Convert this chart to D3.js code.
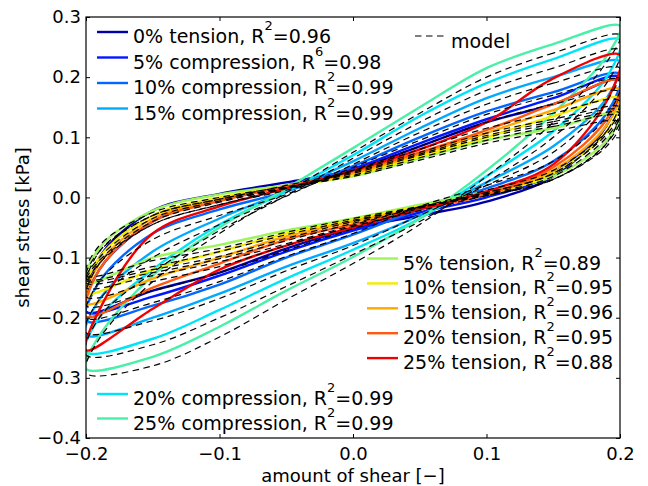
<!DOCTYPE html>
<html><head><meta charset="utf-8">
<script src="https://cdn.jsdelivr.net/npm/d3@7"></script>
<style>
body{margin:0;background:#fff}
svg{display:block}
text{font-family:"DejaVu Sans",sans-serif;fill:#000}
</style>
</head><body>
<svg id="chart" width="648" height="486"></svg>
<script>
// ---- axis ticks ----
const xTicks = [-0.2, -0.1, 0.0, 0.1, 0.2];
const yTicks = [-0.4, -0.3, -0.2, -0.1, 0.0, 0.1, 0.2, 0.3];

// ---- sampling positions of each hysteresis loop ----
// upper (unloading) branch, from right tip to left
const upperX = [0.2, 0.15, 0.1, 0.05, 0.0, -0.05, -0.1, -0.15, -0.19];
// lower (loading) branch, from left tip to right
const lowerX = [-0.2, -0.15, -0.1, -0.05, 0.0, 0.05, 0.1, 0.15, 0.19];

// ---- series names / R^2 ----
const seriesNames = ["0% tension", "5% compression", "10% compression", "15% compression",
  "20% compression", "25% compression", "5% tension", "10% tension", "15% tension",
  "20% tension", "25% tension"];
const r2Exp = ["2", "6", "2", "2", "2", "2", "2", "2", "2", "2", "2"];
const r2Val = ["0.96", "0.98", "0.99", "0.99", "0.99", "0.99", "0.89", "0.95", "0.96", "0.95", "0.88"];
const seriesColors = ["#0000a8", "#0018ff", "#0068ff", "#00aaff", "#00e4f8", "#48f0a8",
  "#9cf55a", "#f4ec00", "#ffa800", "#ff5a10", "#f00000"];

// ---- measured loops (shear stress, kPa) ----
const t0Upper  = [0.195, 0.155, 0.125, 0.085, 0.046, 0.025, 0.006, -0.022, -0.100];
const t0Lower  = [-0.190, -0.155, -0.125, -0.085, -0.052, -0.030, -0.007, 0.035, 0.120];
const c5Upper  = [0.200, 0.165, 0.130, 0.090, 0.048, 0.020, -0.003, -0.040, -0.120];
const c5Lower  = [-0.190, -0.165, -0.130, -0.090, -0.055, -0.025, 0.000, 0.040, 0.120];
const c10Upper = [0.205, 0.175, 0.143, 0.100, 0.052, 0.010, -0.020, -0.060, -0.140];
const c10Lower = [-0.205, -0.180, -0.145, -0.100, -0.062, -0.020, 0.015, 0.060, 0.140];
const c15Upper = [0.226, 0.200, 0.165, 0.115, 0.060, 0.010, -0.035, -0.090, -0.170];
const c15Lower = [-0.229, -0.200, -0.160, -0.115, -0.076, -0.030, 0.025, 0.085, 0.165];
const c20Upper = [0.262, 0.230, 0.190, 0.135, 0.070, 0.010, -0.045, -0.120, -0.200];
const c20Lower = [-0.257, -0.235, -0.187, -0.135, -0.087, -0.035, 0.035, 0.110, 0.200];
const c25Upper = [0.285, 0.255, 0.215, 0.150, 0.082, 0.015, -0.050, -0.130, -0.230];
const c25Lower = [-0.285, -0.265, -0.215, -0.155, -0.099, -0.035, 0.045, 0.140, 0.235];
const t5Upper  = [0.140, 0.115, 0.095, 0.065, 0.035, 0.020, 0.005, -0.022, -0.084];
const t5Lower  = [-0.142, -0.100, -0.079, -0.055, -0.035, -0.012, 0.010, 0.035, 0.095];
const t10Upper = [0.165, 0.135, 0.100, 0.068, 0.037, 0.018, 0.000, -0.030, -0.100];
const t10Lower = [-0.159, -0.120, -0.090, -0.060, -0.037, -0.015, 0.005, 0.040, 0.110];
const t15Upper = [0.180, 0.145, 0.107, 0.072, 0.040, 0.018, -0.004, -0.035, -0.110];
const t15Lower = [-0.176, -0.135, -0.100, -0.065, -0.040, -0.018, 0.005, 0.045, 0.120];
const t20Upper = [0.195, 0.155, 0.112, 0.075, 0.043, 0.018, -0.006, -0.040, -0.120];
const t20Lower = [-0.198, -0.150, -0.110, -0.070, -0.045, -0.020, 0.005, 0.050, 0.130];
const t25Upper = [0.237, 0.198, 0.125, 0.080, 0.045, 0.015, -0.015, -0.060, -0.187];
const t25Lower = [-0.254, -0.185, -0.120, -0.080, -0.050, -0.020, 0.010, 0.055, 0.160];

// ---- model loops ----
const t0ModelUpper  = [0.160, 0.140, 0.115, 0.080, 0.045, 0.020, -0.003, -0.030, -0.090];
const t0ModelLower  = [-0.165, -0.140, -0.115, -0.080, -0.048, -0.022, 0.003, 0.030, 0.090];
const c5ModelUpper  = [0.175, 0.155, 0.125, 0.085, 0.045, 0.012, -0.012, -0.045, -0.110];
const c5ModelLower  = [-0.180, -0.155, -0.125, -0.088, -0.052, -0.018, 0.008, 0.040, 0.110];
const c10ModelUpper = [0.195, 0.170, 0.138, 0.095, 0.050, 0.005, -0.030, -0.070, -0.140];
const c10ModelLower = [-0.200, -0.175, -0.140, -0.098, -0.060, -0.015, 0.020, 0.060, 0.135];
const c15ModelUpper = [0.215, 0.190, 0.155, 0.108, 0.055, 0.002, -0.045, -0.100, -0.170];
const c15ModelLower = [-0.225, -0.205, -0.168, -0.122, -0.080, -0.030, 0.020, 0.075, 0.160];
const c20ModelUpper = [0.245, 0.215, 0.178, 0.125, 0.065, 0.003, -0.055, -0.125, -0.200];
const c20ModelLower = [-0.262, -0.245, -0.200, -0.148, -0.095, -0.040, 0.025, 0.100, 0.190];
const c25ModelUpper = [0.270, 0.240, 0.200, 0.140, 0.075, 0.008, -0.060, -0.140, -0.235];
const c25ModelLower = [-0.292, -0.280, -0.232, -0.170, -0.110, -0.045, 0.035, 0.125, 0.225];
const t5ModelUpper  = [0.125, 0.110, 0.090, 0.062, 0.035, 0.018, 0.000, -0.025, -0.080];
const t5ModelLower  = [-0.130, -0.105, -0.085, -0.058, -0.035, -0.015, 0.005, 0.030, 0.085];
const t10ModelUpper = [0.135, 0.118, 0.095, 0.066, 0.037, 0.016, -0.003, -0.030, -0.090];
const t10ModelLower = [-0.135, -0.115, -0.090, -0.062, -0.038, -0.016, 0.003, 0.030, 0.090];
const t15ModelUpper = [0.140, 0.122, 0.100, 0.070, 0.040, 0.016, -0.006, -0.035, -0.100];
const t15ModelLower = [-0.138, -0.120, -0.098, -0.068, -0.040, -0.016, 0.006, 0.035, 0.100];
const t20ModelUpper = [0.145, 0.126, 0.103, 0.072, 0.042, 0.016, -0.008, -0.040, -0.105];
const t20ModelLower = [-0.142, -0.125, -0.102, -0.072, -0.043, -0.017, 0.008, 0.040, 0.105];
const t25ModelUpper = [0.150, 0.130, 0.107, 0.075, 0.044, 0.015, -0.012, -0.045, -0.110];
const t25ModelLower = [-0.150, -0.130, -0.107, -0.077, -0.046, -0.016, 0.012, 0.045, 0.110];

const measuredUpper = [t0Upper, c5Upper, c10Upper, c15Upper, c20Upper, c25Upper, t5Upper, t10Upper, t15Upper, t20Upper, t25Upper];
const measuredLower = [t0Lower, c5Lower, c10Lower, c15Lower, c20Lower, c25Lower, t5Lower, t10Lower, t15Lower, t20Lower, t25Lower];
const modelUpper = [t0ModelUpper, c5ModelUpper, c10ModelUpper, c15ModelUpper, c20ModelUpper, c25ModelUpper, t5ModelUpper, t10ModelUpper, t15ModelUpper, t20ModelUpper, t25ModelUpper];
const modelLower = [t0ModelLower, c5ModelLower, c10ModelLower, c15ModelLower, c20ModelLower, c25ModelLower, t5ModelLower, t10ModelLower, t15ModelLower, t20ModelLower, t25ModelLower];

// ---- layout ----
const W = 648, H = 486;
const L = 86, R = 620, T = 17, B = 438;
const svg = d3.select("#chart");
const x = d3.scaleLinear().domain([-0.2, 0.2]).range([L, R]);
const y = d3.scaleLinear().domain([-0.4, 0.3]).range([B, T]);
const fmt = d3.format(".1f");

svg.append("defs").append("clipPath").attr("id", "clip")
  .append("rect").attr("x", L).attr("y", T).attr("width", R - L).attr("height", B - T);

const loopLine = d3.line().x(d => x(d[0])).y(d => y(d[1]))
  .curve(d3.curveCatmullRomClosed.alpha(0.5));
function loopPoints(up, lo) {
  return upperX.map((xx, i) => [xx, up[i]]).concat(lowerX.map((xx, i) => [xx, lo[i]]));
}

const plot = svg.append("g").attr("clip-path", "url(#clip)");
seriesNames.forEach((n, i) => {
  plot.append("path").attr("d", loopLine(loopPoints(measuredUpper[i], measuredLower[i])))
    .attr("fill", "none").attr("stroke", seriesColors[i]).attr("stroke-width", 2.4);
});
seriesNames.forEach((n, i) => {
  plot.append("path").attr("d", loopLine(loopPoints(modelUpper[i], modelLower[i])))
    .attr("fill", "none").attr("stroke", "#000").attr("stroke-width", 1.2)
    .attr("stroke-dasharray", "6.5,4.5");
});

// ---- axes (inward ticks on all four sides) ----
const fontTick = 18;
const gx = svg.append("g").attr("transform", `translate(0,${B})`)
  .call(d3.axisBottom(x).tickValues(xTicks).tickFormat(fmt).tickSizeInner(-4).tickSizeOuter(0).tickPadding(9));
const gy = svg.append("g").attr("transform", `translate(${L},0)`)
  .call(d3.axisLeft(y).tickValues(yTicks).tickFormat(fmt).tickSizeInner(-4).tickSizeOuter(0).tickPadding(5));
const gt = svg.append("g").attr("transform", `translate(0,${T})`)
  .call(d3.axisTop(x).tickValues(xTicks).tickFormat("").tickSizeInner(-4).tickSizeOuter(0));
const gr = svg.append("g").attr("transform", `translate(${R},0)`)
  .call(d3.axisRight(y).tickValues(yTicks).tickFormat("").tickSizeInner(-4).tickSizeOuter(0));
[gx, gy, gt, gr].forEach(g => {
  g.selectAll("path.domain").remove();
  g.selectAll("line").attr("stroke", "#000").attr("stroke-width", 1);
  g.selectAll("text").attr("font-family", "DejaVu Sans").attr("font-size", fontTick).attr("fill", "#000");
});
svg.append("rect").attr("x", L).attr("y", T).attr("width", R - L).attr("height", B - T)
  .attr("fill", "none").attr("stroke", "#000").attr("stroke-width", 1.2);

// axis titles
svg.append("text").attr("x", (L + R) / 2).attr("y", 482).attr("text-anchor", "middle")
  .attr("font-size", 18).text("amount of shear [\u2212]");
svg.append("text").attr("transform", `translate(29,${(T + B) / 2}) rotate(-90)`)
  .attr("text-anchor", "middle").attr("font-size", 18).text("shear stress [kPa]");

// ---- legends ----
const fontLeg = 19;
function legendEntry(i, hx0, hx1, ly) {
  svg.append("line").attr("x1", hx0).attr("x2", hx1).attr("y1", ly).attr("y2", ly)
    .attr("stroke", seriesColors[i]).attr("stroke-width", 2.4);
  const t = svg.append("text").attr("x", hx1 + 5).attr("y", ly + 11).attr("font-size", fontLeg);
  t.append("tspan").text(seriesNames[i] + ", R");
  t.append("tspan").attr("dy", -13).attr("font-size", 13).text(r2Exp[i]);
  t.append("tspan").attr("dy", 13).text("=" + r2Val[i]);
}
// upper-left: 0% tension, 5-15% compression
[0, 1, 2, 3].forEach((i, k) => legendEntry(i, 97, 128, 32 + k * 25.5));
// bottom-left: 20-25% compression
[4, 5].forEach((i, k) => legendEntry(i, 97, 128, 394 + k * 24.5));
// bottom-right: tension
[6, 7, 8, 9, 10].forEach((i, k) => legendEntry(i, 367, 398, 258.5 + k * 24.9));
// model
svg.append("line").attr("x1", 415).attr("x2", 447).attr("y1", 36).attr("y2", 36)
  .attr("stroke", "#000").attr("stroke-width", 1.2).attr("stroke-dasharray", "6.5,4.5");
svg.append("text").attr("x", 451).attr("y", 48).attr("font-size", fontLeg).text("model");
</script>
</body></html>
